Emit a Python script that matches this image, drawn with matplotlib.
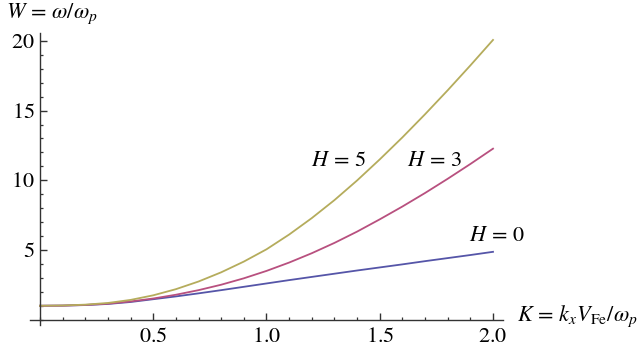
import matplotlib.pyplot as plt
from matplotlib.ticker import MultipleLocator

plt.rcParams['mathtext.fontset'] = 'stix'
plt.rcParams['font.family'] = 'serif'
plt.rcParams['font.serif'] = ['Liberation Serif', 'DejaVu Serif']

K = [0.0, 0.1, 0.2, 0.3, 0.4, 0.5, 0.6, 0.7, 0.8, 0.9, 1.0,
     1.1, 1.2, 1.3, 1.4, 1.5, 1.6, 1.7, 1.8, 1.9, 2.0]
W_h0 = [1.00, 1.01, 1.05, 1.13, 1.27, 1.47, 1.67, 1.89, 2.12, 2.36, 2.60,
        2.84, 3.07, 3.30, 3.53, 3.75, 3.97, 4.20, 4.42, 4.64, 4.87]
W_h3 = [1.00, 1.01, 1.06, 1.15, 1.31, 1.52, 1.79, 2.12, 2.51, 2.97, 3.50,
        4.10, 4.77, 5.51, 6.32, 7.20, 8.12, 9.09, 10.11, 11.17, 12.27]
W_h5 = [1.00, 1.02, 1.08, 1.20, 1.42, 1.75, 2.19, 2.74, 3.40, 4.17, 5.05,
        6.11, 7.29, 8.58, 9.99, 11.50, 13.08, 14.74, 16.46, 18.24, 20.07]

x_ticks = [0.5, 1.0, 1.5, 2.0]
x_labels = ['0.5', '1.0', '1.5', '2.0']
y_ticks = [5, 10, 15, 20]

fig = plt.figure(figsize=(6.4, 3.46), dpi=100)
ax = fig.add_axes([0.0469, 0.0607, 0.739, 0.844])

ax.plot(K, W_h0, color='#5555a8', lw=1.3)
ax.plot(K, W_h3, color='#b8507f', lw=1.3)
ax.plot(K, W_h5, color='#b5ac5c', lw=1.3)

ax.set_xlim(-0.044, 2.044)
ax.set_ylim(-0.38, 20.57)

for s in ['top', 'right']:
    ax.spines[s].set_visible(False)
ax.spines['left'].set_position(('data', 0))
ax.spines['bottom'].set_position(('data', 0))
for s in ['left', 'bottom']:
    ax.spines[s].set_color('#333333')
    ax.spines[s].set_linewidth(1.0)

ax.set_xticks(x_ticks)
ax.set_xticklabels(['$%s$' % t for t in x_labels])
ax.set_yticks(y_ticks)
ax.set_yticklabels(['$%d$' % v for v in y_ticks])
ax.xaxis.set_minor_locator(MultipleLocator(0.1))
ax.yaxis.set_minor_locator(MultipleLocator(1))
ax.tick_params(which='both', direction='in', color='#333333', labelsize=16)
ax.tick_params(which='major', length=5, width=1.0)
ax.tick_params(which='minor', length=2.5, width=0.9)
ax.tick_params(axis='x', pad=6)
ax.tick_params(axis='y', pad=4)

fig.text(0.01, 0.995, r'$W\,=\,\omega/\omega_p$', fontsize=16, va='top', ha='left')
fig.text(0.996, 0.087, r'$K\,=\,k_x V_{\rm Fe}/\omega_p$', fontsize=16, va='center', ha='right')

ax.text(1.316, 11.38, r'$H\,=\,5$', fontsize=16, ha='center', va='center')
ax.text(1.74, 11.38, r'$H\,=\,3$', fontsize=16, ha='center', va='center')
ax.text(2.018, 6.0, r'$H\,=\,0$', fontsize=16, ha='center', va='center')

fig.savefig('out.png', dpi=100)
